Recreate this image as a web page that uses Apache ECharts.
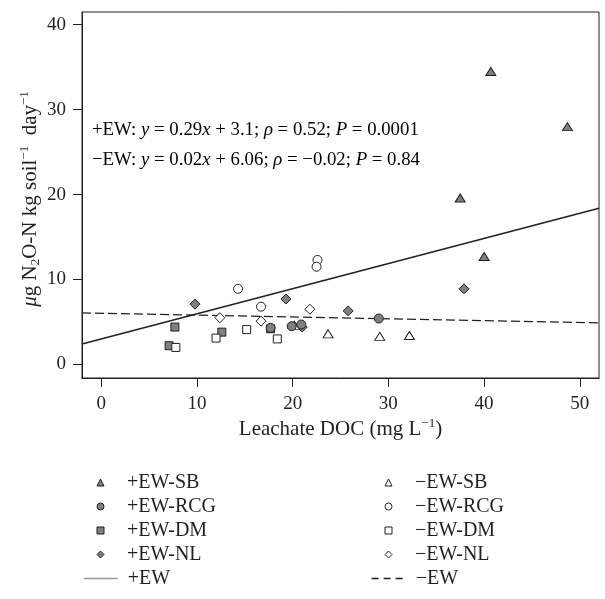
<!DOCTYPE html>
<html><head><meta charset="utf-8">
<script src="https://cdn.jsdelivr.net/npm/echarts@6/dist/echarts.min.js"></script>
<style>html,body{margin:0;padding:0;background:#fff}#c{width:605px;height:599px}</style>
</head><body><div id="c"></div>
<script>
// ---- data ----
const xTicks = [0, 10, 20, 30, 40, 50];
const yTicks = [0, 10, 20, 30, 40];
const plusSB  = [[40.7, 34.5], [48.7, 28.0], [37.5, 19.6], [40.0, 12.7]];
const plusRCG = [[29.0, 5.4], [19.9, 4.5], [20.9, 4.7], [17.7, 4.3]];
const plusDM  = [[7.7, 4.4], [7.1, 2.2], [12.6, 3.8], [17.7, 4.2]];
const plusNL  = [[9.8, 7.1], [19.3, 7.7], [25.8, 6.3], [37.9, 8.9], [21.0, 4.4]];
const minusSB  = [[23.7, 3.6], [29.1, 3.3], [32.2, 3.4], [20.2, 4.6]];
const minusRCG = [[14.3, 8.9], [22.6, 12.3], [22.5, 11.5], [16.7, 6.8]];
const minusDM  = [[7.8, 2.0], [12.0, 3.1], [15.2, 4.1], [18.4, 3.0]];
const minusNL  = [[12.4, 5.5], [16.7, 5.1], [21.8, 6.5]];
const lineX = [-2, 52];
const plusEWLine = [2.4, 18.4];
const minusEWLine = [6.07, 4.9];
const legendLeftMarks = ['+EW-SB', '+EW-RCG', '+EW-DM', '+EW-NL'];
const legendRightMarks = ['\u2212EW-SB', '\u2212EW-RCG', '\u2212EW-DM', '\u2212EW-NL'];
const legendLeftLine = '+EW';
const legendRightLine = '\u2212EW';

const FONT = '"Liberation Serif", "DejaVu Serif", serif';
const INK = '#231f20';
const GREY = '#808080';

function pts(arr) { return arr.map(p => [p[0], p[1]]); }
function linePts(ys) { return lineX.map((x, i) => [x, ys[i]]); }

function scat(name, data, symbol, filled, size, z) {
  return {
    name, type: 'scatter', data: pts(data), symbol, symbolSize: size, z,
    itemStyle: { color: filled ? GREY : '#fff', borderColor: INK, borderWidth: 1, opacity: 1 },
    emphasis: { disabled: true }
  };
}

const AF = 18.8;
const richBase = {
  a: { fontFamily: FONT, fontSize: AF, color: INK },
  i: { fontFamily: FONT, fontSize: AF, color: INK, fontStyle: 'italic' }
};

const LTOP = 467, ROW = 24, LFS = 20, LLH = 21;
function markLegend(names, symCenterX) {
  return {
    data: names,
    orient: 'vertical', left: symCenterX - 3.5 - 5, top: LTOP, itemWidth: 7, itemHeight: 7, itemGap: ROW - LLH,
    itemStyle: { borderWidth: 1 },
    selectedMode: false,
    textStyle: { fontFamily: FONT, fontSize: LFS, color: INK, lineHeight: LLH, padding: [0, 0, 0, 18] }
  };
}
function lineLegend(name, lineStyle, left) {
  return {
    data: [{ name: name, lineStyle: lineStyle, itemStyle: { opacity: 0 } }],
    orient: 'vertical', left: left, top: LTOP + 4 * ROW, itemWidth: 34, itemHeight: 7,
    selectedMode: false,
    textStyle: { fontFamily: FONT, fontSize: LFS, color: INK, lineHeight: LLH, padding: [0, 0, 0, 5] }
  };
}

const chart = echarts.init(document.getElementById('c'), null, { renderer: 'canvas' });
chart.setOption({
  animation: false,
  backgroundColor: '#fff',
  grid: { left: 82, top: 12, width: 517, height: 366, show: true, borderColor: INK, borderWidth: 1, backgroundColor: 'transparent' },
  xAxis: {
    type: 'value', min: -2, max: 52,
    axisLine: { show: true, onZero: false, lineStyle: { color: INK, width: 1 } },
    axisTick: { show: true, customValues: xTicks, length: 9, lineStyle: { color: INK } },
    axisLabel: { customValues: xTicks, fontFamily: FONT, fontSize: 19, color: INK, margin: 17 },
    splitLine: { show: false },
    name: 'Leachate DOC (mg L{sup|\u22121})',
    nameLocation: 'middle', nameGap: 39, nameMoveOverlap: false,
    nameTextStyle: {
      fontFamily: FONT, fontSize: 21, color: INK, lineHeight: 24,
      rich: { sup: { fontFamily: FONT, fontSize: 13, color: INK, lineHeight: 13, verticalAlign: 'top' } }
    }
  },
  yAxis: {
    type: 'value', min: -1.6, max: 41.5,
    axisLine: { show: true, onZero: false, lineStyle: { color: INK, width: 1 } },
    axisTick: { show: true, customValues: yTicks, length: 9, lineStyle: { color: INK } },
    axisLabel: { customValues: yTicks, fontFamily: FONT, fontSize: 19, color: INK, margin: 16 },
    splitLine: { show: false },
    name: '{it|\u03bc}g N{sub|2}O-N kg soil{sup|\u22121}  day{sup|\u22121}',
    nameLocation: 'middle', nameGap: 40, nameRotate: 90, nameMoveOverlap: false,
    nameTextStyle: {
      fontFamily: FONT, fontSize: 21, color: INK, lineHeight: 24, padding: [0, 8, 0, 0],
      rich: {
        it: { fontFamily: FONT, fontSize: 21, color: INK, fontStyle: 'italic', lineHeight: 24 },
        sup: { fontFamily: FONT, fontSize: 13, color: INK, lineHeight: 13, verticalAlign: 'top' },
        sub: { fontFamily: FONT, fontSize: 13, color: INK, lineHeight: 13, verticalAlign: 'bottom' }
      }
    }
  },
  legend: [
    markLegend(legendLeftMarks, 100),
    markLegend(legendRightMarks, 388),
    lineLegend(legendLeftLine, { color: '#9a9a9a', width: 1.5, type: 'solid' }, 78),
    lineLegend(legendRightLine, { color: INK, width: 1.3, type: [7, 5] }, 366)
  ],
  graphic: [
    {
      type: 'text', left: 92, top: 121, z: 10,
      style: {
        text: '{a|+EW: }{i|y}{a| = 0.29}{i|x}{a| + 3.1; }{i|\u03c1}{a| = 0.52; }{i|P}{a| = 0.0001}',
        rich: richBase
      }
    },
    {
      type: 'text', left: 92, top: 151, z: 10,
      style: {
        text: '{a|\u2212EW: }{i|y}{a| = 0.02}{i|x}{a| + 6.06; }{i|\u03c1}{a| = \u22120.02; }{i|P}{a| = 0.84}',
        rich: richBase
      }
    }
  ],
  series: [
    scat('+EW-SB', plusSB, 'triangle', true, [10, 8], 3),
    scat('+EW-RCG', plusRCG, 'circle', true, 9, 5),
    scat('+EW-DM', plusDM, 'rect', true, 8, 2),
    scat('+EW-NL', plusNL, 'diamond', true, [10, 10], 2),
    {
      name: '+EW', type: 'line', data: linePts(plusEWLine), symbol: 'none', z: 1,
      itemStyle: { color: INK },
      lineStyle: { color: INK, width: 1.5 }, emphasis: { disabled: true }
    },
    scat('\u2212EW-SB', minusSB, 'triangle', false, [10, 8], 4),
    scat('\u2212EW-RCG', minusRCG, 'circle', false, 9, 4),
    scat('\u2212EW-DM', minusDM, 'rect', false, 8, 3),
    scat('\u2212EW-NL', minusNL, 'diamond', false, [10, 10], 3),
    {
      name: '\u2212EW', type: 'line', data: linePts(minusEWLine), symbol: 'none', z: 1,
      itemStyle: { color: INK },
      lineStyle: { color: INK, width: 1.3, type: [9, 4] }, emphasis: { disabled: true }
    }
  ]
});
</script></body></html>
